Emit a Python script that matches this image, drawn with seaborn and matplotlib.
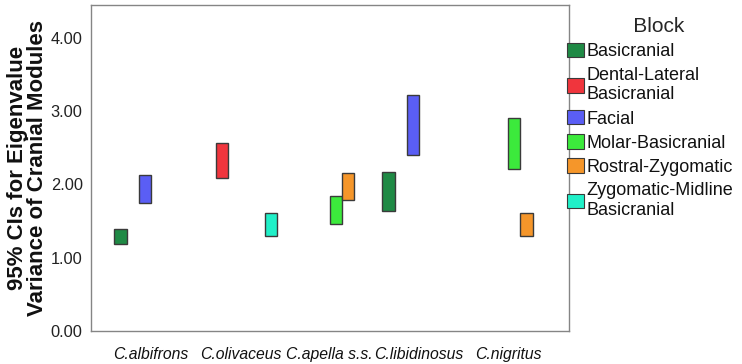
import matplotlib
matplotlib.use("Agg")
import matplotlib.pyplot as plt
from matplotlib.patches import Patch
import seaborn as sns
import pandas as pd
import numpy as np

# ---- data ----
species = ["C.albifrons", "C.olivaceus", "C.apella s.s.", "C.libidinosus", "C.nigritus"]
blocks = ["Basicranial", "Dental-Lateral\nBasicranial", "Facial", "Molar-Basicranial",
          "Rostral-Zygomatic", "Zygomatic-Midline\nBasicranial"]
colors = ["#1f8a45", "#f0353d", "#5a5ef5", "#3cea3c", "#f5962a", "#20f0c8"]

bar_species = ["C.albifrons", "C.albifrons", "C.olivaceus", "C.olivaceus",
               "C.apella s.s.", "C.apella s.s.", "C.libidinosus", "C.libidinosus",
               "C.nigritus", "C.nigritus"]
bar_block = [blocks[0], blocks[2], blocks[1], blocks[5], blocks[3], blocks[4],
             blocks[0], blocks[2], blocks[3], blocks[4]]
ci_lower = [1.18, 1.75, 2.08, 1.30, 1.46, 1.79, 1.64, 2.40, 2.21, 1.30]
ci_upper = [1.39, 2.13, 2.57, 1.61, 1.84, 2.15, 2.17, 3.22, 2.91, 1.61]

df = pd.DataFrame({"species": bar_species, "block": bar_block,
                   "lower": ci_lower, "upper": ci_upper})
df["span"] = df["upper"] - df["lower"]

sns.set_theme(style="white")
plt.rcParams["font.family"] = ["Liberation Sans", "DejaVu Sans"]

fig = plt.figure(figsize=(7.42, 3.64), dpi=100)
ax = fig.add_axes([91 / 742, 33.3 / 364, (569 - 91) / 742, (330.7 - 5) / 364])

sns.barplot(data=df, x="species", y="span", hue="block", order=species,
            hue_order=blocks, palette=colors, saturation=1, dodge=True, width=0.82, gap=0,
            edgecolor="#3a3a3a", linewidth=1.0, errorbar=None, legend=False, ax=ax)

# move each bar so it floats from its lower CI bound
lookup = {(s, b): lo for s, b, lo in zip(df["species"], df["block"], df["lower"])}
for b, cont in zip(blocks, ax.containers):
    for patch in cont.patches:
        cx = patch.get_x() + patch.get_width() / 2
        s = species[int(round(cx))]
        if (s, b) in lookup:
            patch.set_y(lookup[(s, b)])

ax.set_xlim(-0.672, 4.68)
ax.set_ylim(0, 4.45)
ax.set_yticks([0, 1, 2, 3, 4])
ax.set_yticklabels([f"{v:.2f}" for v in [0, 1, 2, 3, 4]], fontsize=11.8, color="#222222")
ax.set_xticks(range(len(species)))
ax.set_xticklabels(species, fontsize=11.3, style="italic", color="#111111")
ax.set_xlabel("")
ax.set_ylabel("95% CIs for Eigenvalue\nVariance of Cranial Modules", fontsize=16,
              fontweight="bold", color="#111111", linespacing=0.92, labelpad=2)

for sp in ax.spines.values():
    sp.set_visible(True)
    sp.set_color("#858585")
    sp.set_linewidth(1.0)
ax.tick_params(axis="y", direction="out", length=5, width=1, color="#858585", pad=1)
ax.tick_params(axis="x", direction="out", length=9, width=1, color="#858585", pad=3)

handles = [Patch(facecolor=c, edgecolor="#3a3a3a", linewidth=0.8) for c in colors]
leg = fig.legend(handles, blocks, title="   Block", loc="upper left",
                 bbox_to_anchor=(567 / 742, 1 - 17 / 364), frameon=False,
                 fontsize=13, title_fontsize=15, handlelength=0.95, handleheight=0.85,
                 handletextpad=0.12, labelspacing=0.37, borderpad=0, borderaxespad=0)
leg._legend_box.get_children()[1].sep = 7.0
for t in leg.get_texts():
    t.set_linespacing(1.2)
    t.set_color("#111111")

fig.savefig("out.png", dpi=100)
